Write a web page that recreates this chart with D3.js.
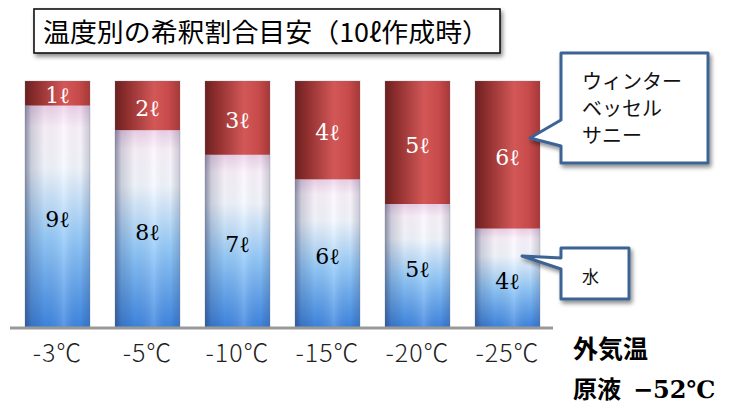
<!DOCTYPE html>
<html><head><meta charset="utf-8">
<script src="https://cdn.jsdelivr.net/npm/d3@7"></script>
<style>
html,body{margin:0;padding:0;background:#fff;}
svg{display:block;}
</style></head>
<body>
<svg id="chart" width="733" height="405"></svg>
<script>
const categories = ["-3℃","-5℃","-10℃","-15℃","-20℃","-25℃"];
const concentrate = [1,2,3,4,5,6];   // ウィンターベッセルサニー (ℓ)
const water = [9,8,7,6,5,4];         // 水 (ℓ)
const titleText = "温度別の希釈割合目安（10ℓ作成時）";
const calloutConc = ["ウィンター","ベッセル","サニー"];
const calloutWater = ["水"];

const svg = d3.select("#chart");
const defs = svg.append("defs");

// gradients
const red = defs.append("linearGradient").attr("id","gRed").attr("x1",0).attr("x2",1).attr("y1",0).attr("y2",0);
[[0,"#6a2121"],[0.18,"#8f2e2e"],[0.6,"#d35757"],[0.82,"#c84b4b"],[1,"#a53838"]]
  .forEach(([o,c])=>red.append("stop").attr("offset",o).attr("stop-color",c));
const blue = defs.append("linearGradient").attr("id","gBlue").attr("x1",0).attr("x2",0).attr("y1",0).attr("y2",1);
[[0,"#eed3ec"],[0.1,"#fdf4fd"],[0.28,"#f4f8ff"],[0.6,"#95cbfb"],[1,"#3e86e2"]]
  .forEach(([o,c])=>blue.append("stop").attr("offset",o).attr("stop-color",c));
const shade = defs.append("linearGradient").attr("id","gShade").attr("x1",0).attr("x2",1).attr("y1",0).attr("y2",0);
[[0,"rgba(30,40,80,0.5)"],[0.1,"rgba(30,40,80,0.2)"],[0.3,"rgba(0,0,0,0.03)"],[0.6,"rgba(255,255,255,0.15)"],[0.85,"rgba(0,0,0,0.02)"],[1,"rgba(30,40,80,0.22)"]]
  .forEach(([o,c])=>shade.append("stop").attr("offset",o).attr("stop-color",c));
const sh = defs.append("filter").attr("id","shadow").attr("x","-10%").attr("y","-20%").attr("width","130%").attr("height","160%");
sh.append("feDropShadow").attr("dx",2).attr("dy",3).attr("stdDeviation",2.2).attr("flood-color","#000").attr("flood-opacity",0.45);

// scales
const x = d3.scaleBand().domain(categories).range([25,540]).paddingInner(25/90).paddingOuter(0);
const y = d3.scaleLinear().domain([0,10]).range([327,81]);

const data = categories.map((c,i)=>({cat:c, water:water[i], conc:concentrate[i]}));

// title
svg.append("rect").attr("x",34).attr("y",9).attr("width",466).attr("height",44)
  .attr("fill","#fff").attr("stroke","#111").attr("stroke-width",1.6).attr("filter","url(#shadow)");
svg.append("text").attr("x",43).attr("y",42).attr("font-family","'Noto Sans CJK JP'")
  .attr("font-size",26).attr("fill","#000").attr("textLength",446).attr("lengthAdjust","spacingAndGlyphs").text(titleText);

// bars
const g = svg.append("g");
const bars = g.selectAll("g.bar").data(data).join("g").attr("class","bar");
bars.append("rect").attr("x",d=>x(d.cat)).attr("width",x.bandwidth())
  .attr("y",d=>y(d.water)).attr("height",d=>y(0)-y(d.water)).attr("fill","url(#gBlue)");
bars.append("rect").attr("x",d=>x(d.cat)).attr("width",x.bandwidth())
  .attr("y",d=>y(d.water)).attr("height",d=>y(0)-y(d.water)).attr("fill","url(#gShade)");
bars.append("rect").attr("x",d=>x(d.cat)).attr("width",x.bandwidth())
  .attr("y",d=>y(d.water+d.conc)).attr("height",d=>y(d.water)-y(d.water+d.conc)).attr("fill","url(#gRed)");
bars.append("rect").attr("x",d=>x(d.cat)).attr("width",x.bandwidth())
  .attr("y",d=>y(d.water+d.conc)).attr("height",d=>y(0)-y(d.water+d.conc))
  .attr("fill","none").attr("stroke","rgba(120,120,130,0.35)").attr("stroke-width",0.8);

// value labels
bars.append("text").attr("x",d=>x(d.cat)+x.bandwidth()/2)
  .attr("y",d=>(y(d.water)+y(d.water+d.conc))/2+10)
  .attr("text-anchor","middle").attr("font-family","'DejaVu Serif'").attr("font-size",22)
  .attr("fill","#fff").text(d=>d.conc+"ℓ");
bars.append("text").attr("x",d=>x(d.cat)+x.bandwidth()/2)
  .attr("y",d=>(y(0)+y(d.water))/2+11)
  .attr("text-anchor","middle").attr("font-family","'DejaVu Serif'").attr("font-size",22)
  .attr("fill","#000").text(d=>d.water+"ℓ");

// axis
svg.append("line").attr("x1",10).attr("x2",553).attr("y1",328).attr("y2",328)
  .attr("stroke","#999").attr("stroke-width",3);
const ax = svg.append("g").attr("transform","translate(0,328)")
  .call(d3.axisBottom(x).tickSize(0).tickPadding(16));
ax.select(".domain").remove();
ax.selectAll("text").attr("font-family","'Noto Sans CJK JP'").attr("font-size",25)
  .attr("font-weight",300).attr("fill","#222").attr("dy","0.71em").attr("letter-spacing",1);

// right labels
svg.append("text").attr("x",573).attr("y",358).attr("font-family","'Noto Sans CJK JP'")
  .attr("font-weight",700).attr("font-size",25).attr("fill","#000").text("外気温");
const t2 = svg.append("text").attr("x",573).attr("y",398).attr("font-family","'Noto Sans CJK JP'")
  .attr("font-weight",700).attr("font-size",24).attr("fill","#000");
t2.append("tspan").text("原液");
t2.append("tspan").attr("x",633).attr("font-family","'DejaVu Serif'").text("−52℃");

// callouts
function callout(pts, lines, tx, ty, lh, fs){
  svg.append("path").attr("d", d3.line()(pts)+"Z").attr("fill","#fff")
    .attr("stroke","#3d6494").attr("stroke-width",3).attr("stroke-linejoin","round").attr("filter","url(#shadow)");
  const t = svg.append("text").attr("font-family","'Noto Sans CJK JP'").attr("font-size",fs).attr("fill","#111");
  lines.forEach((l,i)=>t.append("tspan").attr("x",tx).attr("y",ty+i*lh).text(l));
}
callout([[561,53],[708,53],[708,163],[561,163],[561,146],[530,138],[561,120]], calloutConc, 582, 89, 27, 20);
callout([[561,248],[629,248],[629,299],[561,299],[561,269],[522,256],[561,258]], calloutWater, 582, 283, 0, 17);
</script>
</body></html>
